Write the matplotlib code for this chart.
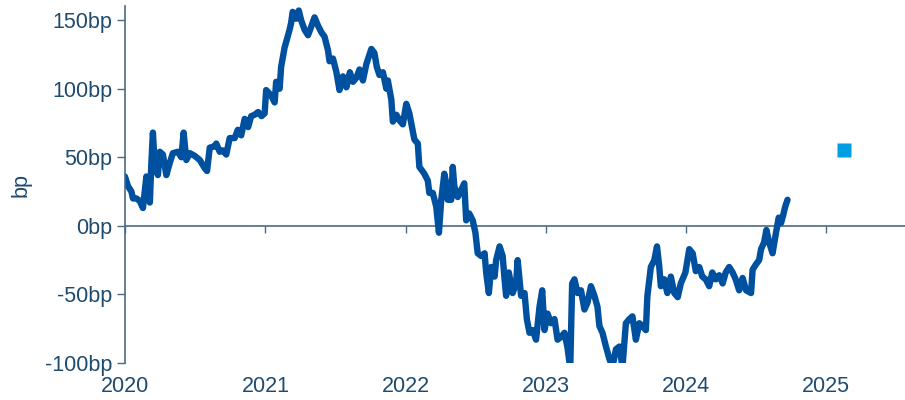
import pandas as pd
import matplotlib.pyplot as plt
import matplotlib.dates as mdates
from matplotlib.ticker import FuncFormatter

plt.rcParams['font.family'] = ['Liberation Sans', 'DejaVu Sans']

# spread in bp
dates = [
    '2020-01-01', '2020-01-09', '2020-01-18', '2020-01-22', '2020-01-31', '2020-02-09',
    '2020-02-17', '2020-02-26', '2020-03-06', '2020-03-10', '2020-03-14', '2020-03-19',
    '2020-03-27', '2020-04-01', '2020-04-09', '2020-04-18', '2020-04-27', '2020-05-05',
    '2020-05-18', '2020-05-27', '2020-06-02', '2020-06-09', '2020-06-18', '2020-07-01',
    '2020-07-14', '2020-07-27', '2020-08-02', '2020-08-09', '2020-08-22', '2020-08-26',
    '2020-09-04', '2020-09-12', '2020-09-21', '2020-09-30', '2020-10-13', '2020-10-21',
    '2020-10-30', '2020-11-08', '2020-11-17', '2020-11-25', '2020-12-04', '2020-12-13',
    '2020-12-22', '2020-12-30',
    '2021-01-03', '2021-01-16', '2021-01-25', '2021-01-29', '2021-02-07', '2021-02-11',
    '2021-02-20', '2021-02-24', '2021-03-05', '2021-03-09', '2021-03-13', '2021-03-22',
    '2021-03-29', '2021-04-04', '2021-04-13', '2021-04-22', '2021-04-30', '2021-05-09',
    '2021-05-18', '2021-05-27', '2021-06-04', '2021-06-13', '2021-06-17', '2021-06-26',
    '2021-07-05', '2021-07-13', '2021-07-22', '2021-07-31', '2021-08-09', '2021-08-17',
    '2021-08-26', '2021-09-03', '2021-09-12', '2021-09-21', '2021-10-04', '2021-10-12',
    '2021-10-18', '2021-10-25', '2021-11-03', '2021-11-12', '2021-11-16', '2021-11-25',
    '2021-11-29', '2021-12-08', '2021-12-16', '2021-12-25',
    '2022-01-03', '2022-01-11', '2022-01-24', '2022-02-02', '2022-02-06', '2022-02-19',
    '2022-02-28', '2022-03-04', '2022-03-13', '2022-03-22', '2022-03-29', '2022-04-04',
    '2022-04-12', '2022-04-17', '2022-04-21', '2022-04-30', '2022-05-04', '2022-05-08',
    '2022-05-17', '2022-05-26', '2022-06-03', '2022-06-08', '2022-06-16', '2022-06-25',
    '2022-07-02', '2022-07-08', '2022-07-17', '2022-07-26', '2022-07-30', '2022-08-06',
    '2022-08-12', '2022-08-21', '2022-08-25', '2022-09-03', '2022-09-11', '2022-09-16',
    '2022-09-20', '2022-09-27', '2022-10-07', '2022-10-16', '2022-10-20', '2022-10-29',
    '2022-11-07', '2022-11-13', '2022-11-20', '2022-11-28', '2022-12-07', '2022-12-16',
    '2022-12-23', '2022-12-29',
    '2023-01-06', '2023-01-15', '2023-01-24', '2023-02-01', '2023-02-10', '2023-02-19',
    '2023-02-27', '2023-03-06', '2023-03-11', '2023-03-17', '2023-03-25', '2023-04-03',
    '2023-04-12', '2023-04-20', '2023-04-29', '2023-05-08', '2023-05-16', '2023-05-21',
    '2023-05-29', '2023-06-07', '2023-06-16', '2023-06-24', '2023-07-03', '2023-07-12',
    '2023-07-20', '2023-07-29', '2023-08-07', '2023-08-15', '2023-08-24', '2023-09-02',
    '2023-09-10', '2023-09-19', '2023-09-23', '2023-10-02', '2023-10-11', '2023-10-18',
    '2023-10-24', '2023-10-28', '2023-11-06', '2023-11-14', '2023-11-23', '2023-12-02',
    '2023-12-11', '2023-12-19', '2023-12-31',
    '2024-01-10', '2024-01-19', '2024-01-27', '2024-02-05', '2024-02-13', '2024-02-22',
    '2024-03-02', '2024-03-10', '2024-03-19', '2024-03-28', '2024-04-06', '2024-04-14',
    '2024-04-23', '2024-05-02', '2024-05-10', '2024-05-19', '2024-05-28', '2024-06-06',
    '2024-06-19', '2024-06-23', '2024-07-02', '2024-07-10', '2024-07-15', '2024-07-23',
    '2024-07-29', '2024-08-05', '2024-08-14', '2024-08-23', '2024-08-30', '2024-09-05',
    '2024-09-10', '2024-09-16', '2024-09-22',
]
spread = [
    36, 29, 25, 20, 20, 18,
    13, 36, 17, 46, 68, 43,
    37, 54, 52, 37, 46, 53,
    54, 50, 68, 48, 53, 51,
    48, 42, 40, 57, 58, 60,
    54, 55, 52, 64, 64, 70,
    66, 78, 72, 80, 81, 83,
    80, 82,
    99, 95, 90, 105, 100, 116,
    130, 134, 143, 148, 156, 151,
    157, 150, 143, 139, 145, 152,
    146, 141, 138, 128, 120, 122,
    112, 99, 109, 101, 112, 105,
    108, 114, 106, 118, 129, 126,
    116, 110, 112, 100, 106, 92,
    76, 81, 77, 74,
    89, 82, 63, 60, 43, 38,
    33, 24, 24, 14, -5, 19,
    38, 31, 19, 19, 43, 29,
    21, 26, 31, 4, 9, 4,
    -5, -20, -22, -20, -34, -49,
    -30, -37, -25, -15, -22, -39,
    -51, -34, -49, -42, -25, -51,
    -49, -68, -78, -76, -83, -59,
    -47, -76,
    -64, -71, -68, -83, -81, -78,
    -89, -104, -42, -39, -49, -47,
    -61, -56, -44, -51, -59, -73,
    -78, -88, -97, -103, -90, -88,
    -103, -71, -68, -66, -83, -71,
    -73, -76, -51, -30, -25, -15,
    -30, -44, -39, -49, -37, -49,
    -52, -42, -34,
    -17, -20, -33, -30, -37, -39,
    -44, -34, -39, -36, -42, -34,
    -30, -34, -39, -47, -38, -47,
    -49, -32, -28, -25, -17, -12,
    -3, -12, -20, -5, 6, 2,
    7, 14, 19,
]

# forecast point
fc_date = ['2025-02-15']
fc_value = [55]

yticks = [-100, -50, 0, 50, 100, 150]
years = [2020, 2021, 2022, 2023, 2024, 2025]

text_col = '#1f4b6e'
axis_col = '#4a6a86'
line_col = '#0050a0'
dot_col = '#009fe3'

fig = plt.figure(figsize=(9.05, 4.0), dpi=100)
ax = fig.add_axes([0.138, 0.0925, 0.862, 0.8915])

x = pd.to_datetime(dates)
ax.plot(x, spread, color=line_col, lw=4.6, solid_joinstyle='round', solid_capstyle='round')
ax.plot(pd.to_datetime(fc_date), fc_value, 's', color=dot_col, ms=10, mec='none')

ax.set_ylim(-100, 160)
ax.set_xlim(pd.Timestamp('2020-01-01'), pd.Timestamp('2025-07-25'))

ax.set_yticks(yticks)
ax.yaxis.set_major_formatter(FuncFormatter(lambda v, p: f'{v:.0f}bp'))
ax.set_ylabel('bp', fontsize=15.5, color=text_col, labelpad=10)

tick_pos = [pd.Timestamp(f'{y}-01-01') for y in years]
ax.set_xticks(tick_pos)
ax.tick_params(axis='x', which='both', labelbottom=False, direction='out',
               length=5, width=1, color=axis_col)
ax.tick_params(axis='y', labelsize=15.5, labelcolor=text_col, color=axis_col,
               length=6, width=1, pad=3)

for s in ['top', 'right']:
    ax.spines[s].set_visible(False)
ax.spines['bottom'].set_position(('data', 0))
ax.spines['bottom'].set_color(axis_col)
ax.spines['left'].set_color(axis_col)
ax.spines['bottom'].set_linewidth(1.2)
ax.spines['left'].set_linewidth(1.2)
ax.spines['bottom'].set_zorder(0.5)

# year labels sit at the foot of the plot, not under the zero line
sec = ax.secondary_xaxis('bottom')
sec.set_xticks(tick_pos)
sec.xaxis.set_major_formatter(mdates.DateFormatter('%Y'))
sec.tick_params(length=0, labelsize=15.5, labelcolor=text_col, pad=9)
sec.spines['bottom'].set_visible(False)

fig.savefig('out.png', dpi=100)
